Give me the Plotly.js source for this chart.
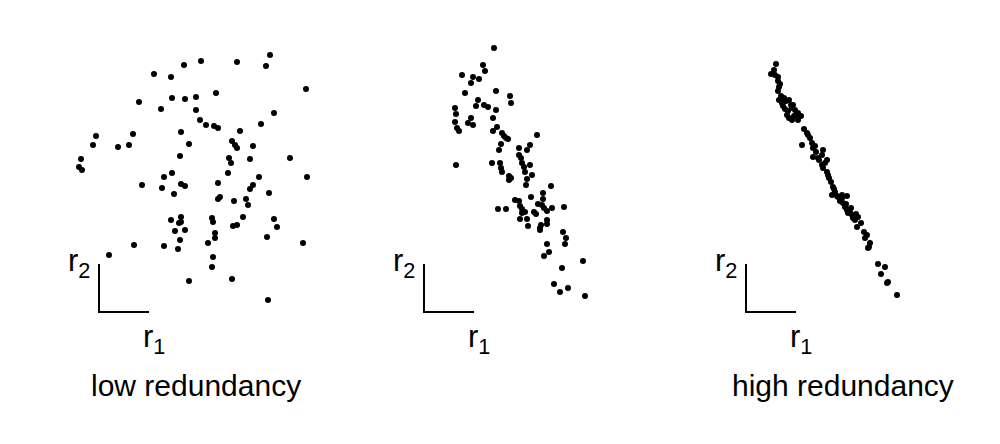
<!DOCTYPE html>
<html>
<head>
<meta charset="utf-8">
<script src="https://cdn.plot.ly/plotly-3.0.1.min.js"></script>
<style>html,body{margin:0;padding:0;background:#fff;}#chart{width:1000px;height:444px;}</style>
</head>
<body>
<div id="chart"></div>
<script>
// Panel titles and axis labels
const panelTitles = ["low redundancy", "", "high redundancy"];
const axisLabel1 = "r<sub>1</sub>";
const axisLabel2 = "r<sub>2</sub>";

// Panel 1: low redundancy (responses r1, r2 in arbitrary units)
const lowR1 = [85,55,72,40,73,86,62,-3,-6,34,19,30,82,90,81,-18,-20,-17,65,73,102,138,171,167,207,97,117,97,101,107,115,119,175,162,141,133,136,138,154,130,132,151,191,129,160,208,43,63,82,86,75,72,82,80,82,76,86,81,35,65,79,10,90,119,154,151,170,119,121,135,147,149,113,114,144,134,138,175,178,116,116,109,168,204,114,113,133,169];
const lowR2 = [247,238,235,210,214,213,203,176,167,178,165,167,180,168,156,153,145,142,135,139,251,250,257,246,223,215,219,202,192,187,186,184,199,188,181,171,167,164,166,154,149,153,154,139,135,135,127,124,128,126,118,92,95,89,90,81,82,72,67,66,63,57,31,129,127,123,119,113,115,111,113,107,94,90,95,86,87,93,85,79,74,69,75,69,55,45,33,12];

// Panel 2: intermediate redundancy
const midR1 = [70,59,61,38,49,47,55,72,41,86,87,54,52,60,64,72,31,32,47,44,49,69,31,33,35,73,69,78,80,82,84,77,75,95,95,97,98,100,32,68,76,77,113,106,103,106,78,85,87,85,91,95,96,98,98,74,82,96,101,108,103,102,127,119,119,107,114,118,120,123,128,140,110,112,101,103,123,123,104,117,116,116,139,142,141,123,125,120,159,138,130,144,136,161];
const midR2 = [264,247,241,237,235,229,233,221,219,216,209,212,206,207,205,202,204,198,194,189,187,194,190,184,181,185,181,179,176,174,173,168,162,164,157,154,149,145,147,149,149,144,177,167,162,147,140,136,134,132,112,111,106,103,99,103,103,93,140,137,133,127,126,119,113,115,108,107,104,101,104,105,100,98,100,93,92,88,86,87,84,82,80,74,68,68,60,56,51,44,28,24,20,16];

// Panel 3: high redundancy
const highR1 = [30,25,29,32,32,34,33,32,33,36,40,43,45,39,42,41,46,49,52,43,46,52,55,37,48,58,61,56,64,66,67,77,67,72,76,70,76,77,79,81,81,82,83,87,89,86,91,96,101,92,96,97,99,101,102,104,106,107,112,109,111,121,119,124,123,122,132,139,135,141,142,151,35,38,50,62,69,73,85,88,94,100,105,110,115,118,28,47];
const highR2 = [248,238,237,235,231,228,225,221,212,209,211,212,207,203,201,197,204,202,199,194,192,192,196,206,196,183,179,167,174,169,164,162,155,154,157,160,147,144,149,152,140,137,134,125,120,117,116,117,116,115,114,109,105,102,99,100,97,94,95,92,85,77,74,69,65,64,48,45,38,29,30,17,216,214,197,177,166,152,130,123,111,108,104,98,89,80,242,207];

const panels = [
  {r1: lowR1, r2: lowR2, xa: "x", origin: 99},
  {r1: midR1, r2: midR2, xa: "x2", origin: 424},
  {r1: highR1, r2: highR2, xa: "x3", origin: 746}
];

const FONT = "Liberation Sans, Arial, Helvetica, sans-serif";
const traces = panels.map(p => ({
  type: "scatter", mode: "markers",
  x: p.r1, y: p.r2, xaxis: p.xa, yaxis: "y",
  marker: {color: "#000", size: 6, line: {width: 0}},
  hoverinfo: "skip"
}));

const hidden = {visible: false, showgrid: false, zeroline: false, fixedrange: true};
const layout = {
  width: 1000, height: 444,
  margin: {l: 0, r: 0, t: 0, b: 0},
  paper_bgcolor: "#fff", plot_bgcolor: "rgba(0,0,0,0)",
  showlegend: false, hovermode: false,
  font: {family: FONT, color: "#000"},
  xaxis: Object.assign({domain: [0, 1], range: [-panels[0].origin, 1000 - panels[0].origin], anchor: "y"}, hidden),
  xaxis2: Object.assign({domain: [0, 1], range: [-panels[1].origin, 1000 - panels[1].origin], anchor: "y", overlaying: "x"}, hidden),
  xaxis3: Object.assign({domain: [0, 1], range: [-panels[2].origin, 1000 - panels[2].origin], anchor: "y", overlaying: "x"}, hidden),
  yaxis: Object.assign({domain: [0, 1], range: [-132, 312]}, hidden),
  shapes: [],
  annotations: []
};

panels.forEach((p, i) => {
  const ln = {type: "line", xref: p.xa, yref: "y", line: {color: "#000", width: 2}};
  layout.shapes.push(Object.assign({x0: 0, y0: 0, x1: 0, y1: 48}, ln));
  layout.shapes.push(Object.assign({x0: -1, y0: 0, x1: 50, y1: 0}, ln));
  layout.annotations.push({xref: p.xa, yref: "y", x: -7, y: 49, text: axisLabel2, showarrow: false,
    xanchor: "right", yanchor: "middle", font: {size: 31, family: FONT, color: "#000"}});
  layout.annotations.push({xref: p.xa, yref: "y", x: 55, y: -27, text: axisLabel1, showarrow: false,
    xanchor: "center", yanchor: "middle", font: {size: 31, family: FONT, color: "#000"}});
  if (panelTitles[i]) {
    layout.annotations.push({xref: p.xa, yref: "y", x: 97, y: -73, text: panelTitles[i], showarrow: false,
      xanchor: "center", yanchor: "middle", font: {size: 30, family: FONT, color: "#000"}});
  }
});

Plotly.newPlot("chart", traces, layout, {staticPlot: true, displayModeBar: false});
</script>
</body>
</html>
